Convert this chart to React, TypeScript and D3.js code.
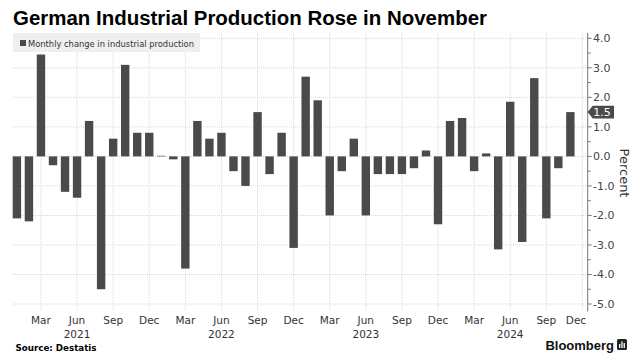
import React from "react";
import * as d3 from "d3";

const monthNames = ["Jan","Feb","Mar","Apr","May","Jun","Jul","Aug","Sep","Oct","Nov","Dec"];
const years = [2021, 2022, 2023, 2024];
const values = [
  -2.1, -2.2, 3.45, -0.3, -1.2, -1.4, 1.2, -4.5, 0.6, 3.1, 0.8, 0.8,
  0.02, -0.1, -3.8, 1.2, 0.6, 0.8, -0.5, -1.0, 1.5, -0.6, 0.8, -3.1,
  2.7, 1.9, -2.0, -0.5, 0.6, -2.0, -0.6, -0.6, -0.6, -0.4, 0.2, -2.3,
  1.2, 1.3, -0.5, 0.1, -3.15, 1.85, -2.9, 2.65, -2.1, -0.4, 1.5,
];
const yTicks = [4, 3, 2, 1, 0, -1, -2, -3, -4, -5];
const title = "German Industrial Production Rose in November";
const legendLabel = "Monthly change in industrial production";
const lastLabel = "1.5";

const W = 643, H = 362;
const axisX = 587.7;
const plotLeft = 13;

export default function App() {
  const x = d3.scaleLinear().domain([0, 47]).range([16.9, 582.4]);
  const y = d3.scaleLinear().domain([-5, 4]).range([304, 38.3]);
  const barW = 8.4;
  const quarterIdx = d3.range(2, 48, 3);
  const minorTicks = d3.range(-5, 4.01, 0.5);
  const font = "'DejaVu Sans', sans-serif";
  const last = values[values.length - 1];
  const ly = y(last);

  return (
    <svg width={W} height={H} style={{ position: "absolute", left: 0, top: 0, background: "#fff" }}>
      <text x={13} y={25} fontFamily="'Liberation Sans', Arial, sans-serif" fontWeight="bold" fontSize={20}
        fill="#000" textLength={474} lengthAdjust="spacingAndGlyphs">{title}</text>

      {/* grid */}
      {yTicks.map((t) => (
        <line key={"h" + t} x1={plotLeft} x2={axisX} y1={y(t)} y2={y(t)} stroke="#d8d8d8" strokeWidth={1} strokeDasharray="1,1" />
      ))}
      {quarterIdx.map((i) => (
        <line key={"v" + i} x1={x(i)} x2={x(i)} y1={33} y2={310} stroke="#d8d8d8" strokeWidth={1} strokeDasharray="1,1" />
      ))}

      {/* legend */}
      <rect x={13} y={33} width={187} height={19} fill="#efefef" />
      <rect x={20} y={40} width={6} height={6} fill="#4a4a4a" />
      <text x={28} y={46.5} fontFamily={font} fontSize={9.5} fill="#333" textLength={166} lengthAdjust="spacingAndGlyphs">{legendLabel}</text>

      {/* bars */}
      {values.map((v, i) => (
        <rect key={i} x={x(i) - barW / 2} width={barW}
          y={Math.min(y(v), y(0))} height={Math.max(Math.abs(y(v) - y(0)), 0.6)} fill="#4a4a4a" />
      ))}

      {/* right axis */}
      <line x1={axisX} x2={axisX} y1={33} y2={311.5} stroke="#777" strokeWidth={1} />
      {minorTicks.map((t) => (
        <line key={"m" + t} x1={axisX} x2={axisX + (Number.isInteger(t) ? 4 : 3)} y1={y(t)} y2={y(t)} stroke="#777" strokeWidth={1} />
      ))}
      {yTicks.map((t) => (
        <text key={"yl" + t} x={593} y={y(t) + 4} fontFamily={font} fontSize={11} fill="#444">{t.toFixed(1)}</text>
      ))}
      <text transform={`translate(620,173) rotate(90)`} textAnchor="middle" fontFamily={font} fontSize={13} fill="#333">Percent</text>

      {/* last value tag */}
      <path d={`M${axisX},${ly} L${axisX + 5},${ly - 6.3} L614,${ly - 6.3} L614,${ly + 6.3} L${axisX + 5},${ly + 6.3} Z`} fill="#4a4a4a" />
      <text x={602} y={ly + 4} textAnchor="middle" fontFamily={font} fontSize={11} fill="#fff">{lastLabel}</text>

      {/* x labels */}
      {quarterIdx.map((i) => (
        <text key={"xl" + i} x={Math.min(x(i), 576)} y={323.5} textAnchor="middle" fontFamily={font} fontSize={10.5} fill="#333">{monthNames[i % 12]}</text>
      ))}
      {years.map((yr, k) => (
        <text key={"yr" + yr} x={x(k * 12 + 5)} y={337.5} textAnchor="middle" fontFamily={font} fontSize={10.5} fill="#333">{yr}</text>
      ))}

      <text x={15.5} y={350.5} fontFamily={font} fontWeight="bold" fontSize={9} fill="#000" textLength={81} lengthAdjust="spacingAndGlyphs">Source: Destatis</text>
      <text x={614} y={349.5} textAnchor="end" fontFamily="'Liberation Sans', Arial, sans-serif" fontWeight="bold" fontSize={13} fill="#111">Bloomberg</text>
      <rect x={617} y={339} width={10} height={11} rx={1.5} fill="#222" />
      <rect x={619} y={344} width={1.3} height={4} fill="#fff" />
      <rect x={621.3} y={341.5} width={1.3} height={6.5} fill="#fff" />
      <rect x={623.6} y={343} width={1.3} height={5} fill="#fff" />
    </svg>
  );
}
